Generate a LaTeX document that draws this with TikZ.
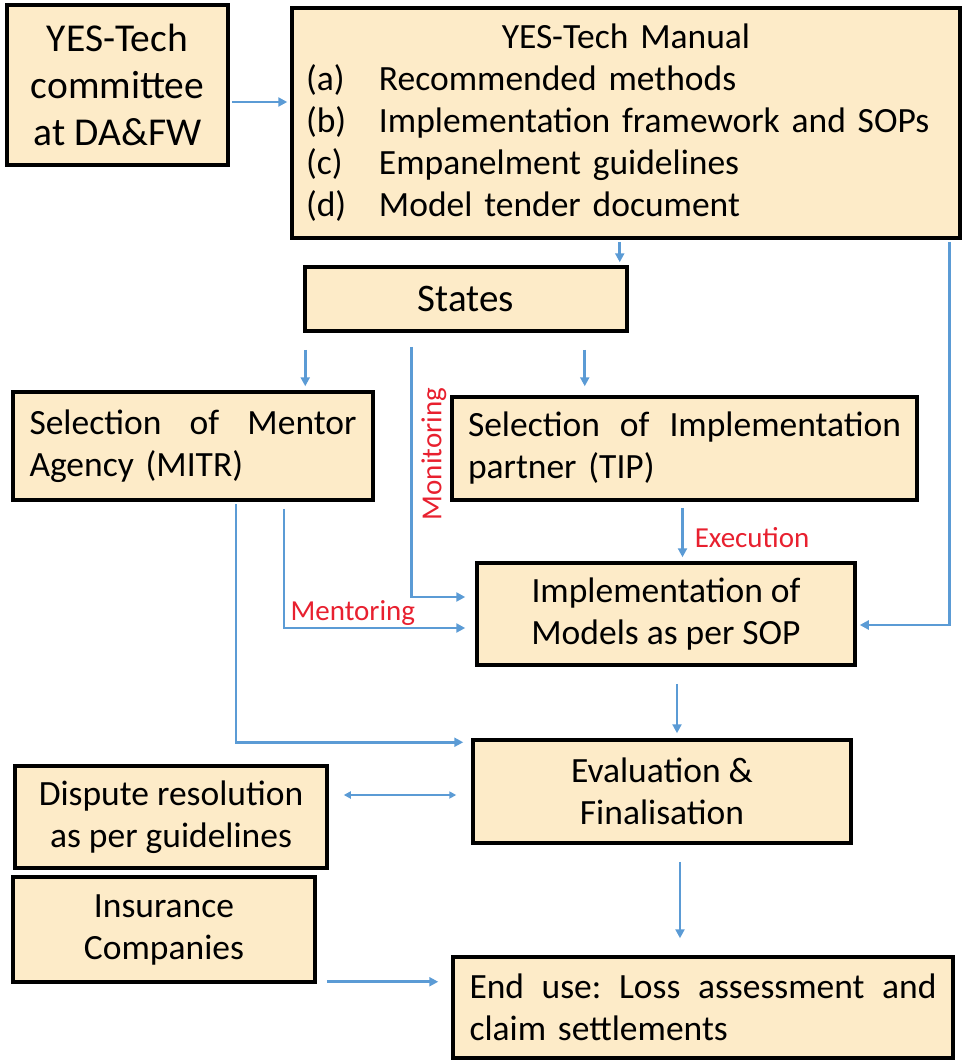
\documentclass[tikz,border=0pt]{standalone}
\usepackage{fontspec}
\setmainfont{Carlito}
\usetikzlibrary{arrows.meta}
\definecolor{boxfill}{HTML}{FDEBC8}
\definecolor{flowblue}{HTML}{5B9BD5}
\definecolor{labelred}{HTML}{E8202F}

\begin{document}
\begin{tikzpicture}[
  x=1pt, y=-1pt,
  box/.style={rectangle, draw=black, fill=boxfill, line width=3.5pt, inner sep=0pt, align=center, font=\fontsize{35.5}{42}\selectfont},
  flow/.style={draw=flowblue, line width=2.6pt, -{Triangle[length=9pt,width=9pt]}},
  tag/.style={text=labelred, font=\fontsize{29}{35}\selectfont, inner sep=1pt}
]
\useasboundingbox (0,0) rectangle (966,1062);

\node[box, minimum width=221pt, minimum height=160pt, font=\fontsize{39.5}{47}\selectfont] (committee) at (117.5,85) {YES-Tech\\committee\\at DA\&FW};
\node[box, minimum width=668pt, minimum height=230pt, text width=640pt, align=left] (manual) at (626,123) {\makebox[640pt]{YES-Tech Manual}\\
  \makebox[73pt][l]{(a)}Recommended methods\\
  \makebox[73pt][l]{(b)}Implementation framework and SOPs\\
  \makebox[73pt][l]{(c)}Empanelment guidelines\\
  \makebox[73pt][l]{(d)}Model tender document};
\node[box, minimum width=322pt, minimum height=64pt, font=\fontsize{39}{47}\selectfont] (states) at (466,299) {States};
\node[box, minimum width=360pt, minimum height=108pt, text width=327pt, align=left] (mentor) at (193,446) {\makebox[327pt][s]{Selection\hfill of\hfill Mentor}\\Agency (MITR)};
\node[box, minimum width=465pt, minimum height=103pt, text width=433pt, align=left] (tip) at (684.5,448.5) {\makebox[433pt][s]{Selection\hfill of\hfill Implementation}\\partner (TIP)};
\node[box, minimum width=378pt, minimum height=102pt] (impl) at (666,614) {Implementation of\\Models as per SOP};
\node[box, minimum width=378pt, minimum height=103pt] (eval) at (662,791.5) {Evaluation \&\\Finalisation};
\node[box, minimum width=312pt, minimum height=102pt] (dispute) at (171,817) {Dispute resolution\\as per guidelines};
\node[box, minimum width=302pt, minimum height=105pt] (insurance) at (164,929.5) {Insurance\\Companies};
\node[box, minimum width=500pt, minimum height=101pt, text width=467pt, align=left] (enduse) at (703,1007.5) {\makebox[467pt][s]{End\hfill use:\hfill Loss\hfill assessment\hfill and}\\claim settlements};

% manual and states
\draw[flow, shorten <=2pt, shorten >=3pt] ([yshift=-17pt]committee.east) -- ([yshift=-17pt]committee.east -| manual.west);
\draw[flow, shorten <=2pt, shorten >=3pt] ([xshift=-9pt]states.north east |- manual.south) -- ([xshift=-9pt]states.north east);
\draw[flow, shorten <=2pt, shorten >=3pt] ([xshift=-12pt]manual.south east) |- ([yshift=-11pt]impl.east);
\draw[flow, shorten <=17pt, shorten >=4pt] ([xshift=2pt]states.south west) -- ([xshift=2pt]states.south west |- mentor.north);
\draw[flow, shorten <=17pt, shorten >=9pt] ([xshift=-44pt]states.south east) -- ([xshift=-44pt]states.south east |- tip.north);

% monitoring, mentoring, execution
\draw[flow, shorten <=14pt, shorten >=10pt] ([xshift=108pt]states.south west) |- ([yshift=17pt]impl.west);
\node[tag, rotate=90] (monitoring) at (434,454) {Monitoring};
\draw[flow, shorten <=7pt, shorten >=10pt] ([xshift=91pt]mentor.south) |- node[tag, pos=0.68, above] (mentoring) {Mentoring} ([yshift=-14pt]impl.west);
\draw[flow, shorten <=6pt, shorten >=4pt] ([xshift=-2pt]tip.south) -- node[tag, pos=0.6, right, xshift=10pt] (execution) {Execution} ([xshift=-2pt]tip.south |- impl.north);

% evaluation and end use
\draw[flow, shorten <=2pt, shorten >=8pt] ([xshift=43pt]mentor.south) |- ([yshift=-4pt]eval.north west);
\draw[flow, shorten <=17pt, shorten >=5pt] ([xshift=11pt]impl.south) -- ([xshift=11pt]impl.south |- eval.north);
\draw[flow, {Triangle[length=7pt,width=7pt]}-{Triangle[length=7pt,width=7pt]}, shorten <=15pt, shorten >=15pt] ([yshift=22pt]dispute.east) -- ([yshift=22pt]dispute.east -| eval.west);
\draw[flow, shorten <=17pt, shorten >=17pt] ([xshift=18pt]eval.south) -- ([xshift=18pt]eval.south |- enduse.north);
\draw[flow, shorten <=10pt, shorten >=13pt] ([yshift=2pt]insurance.south east) -- ([yshift=2pt]insurance.south east -| enduse.west);
\end{tikzpicture}
\end{document}
